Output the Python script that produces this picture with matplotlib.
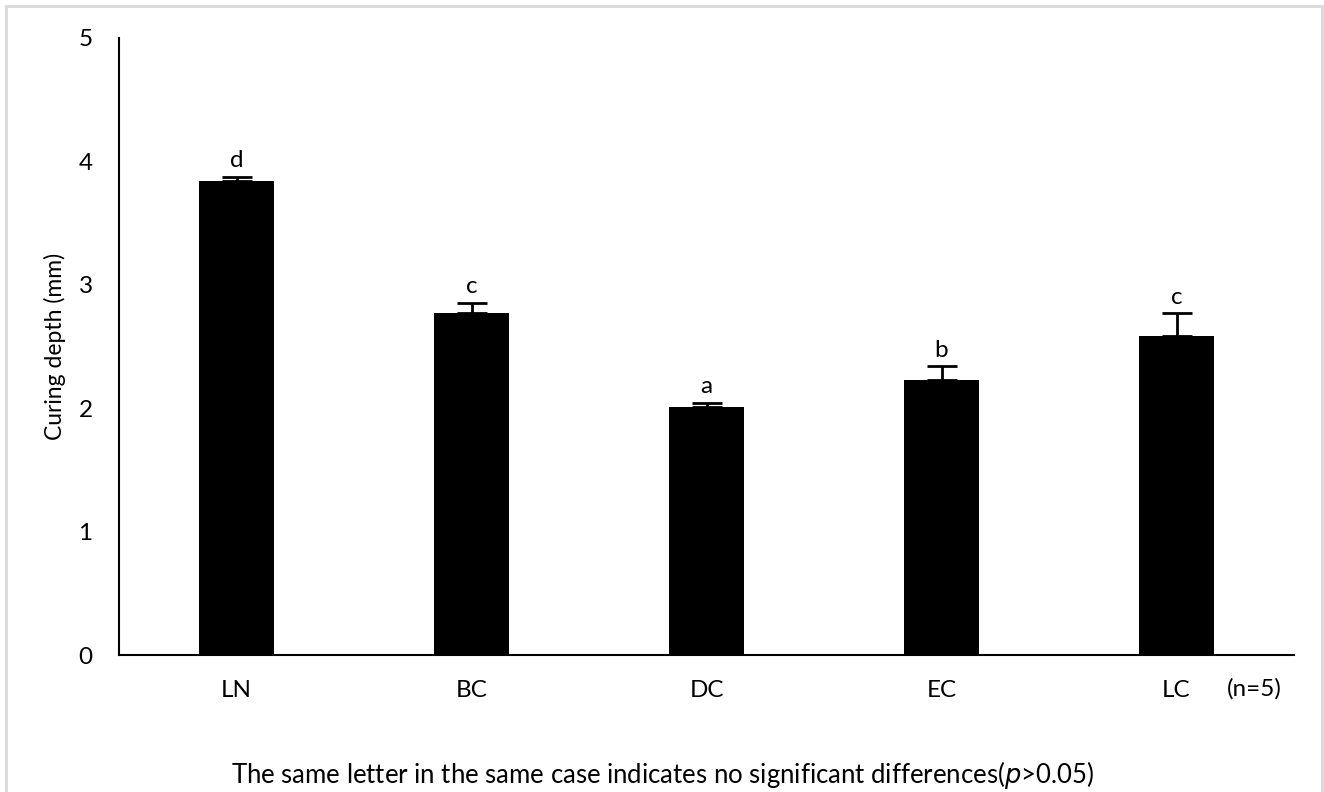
import matplotlib
matplotlib.use("Agg")
import matplotlib.pyplot as plt
from matplotlib.patches import Rectangle

plt.rcParams['font.family'] = ['Lato', 'DejaVu Sans']

groups = ["LN", "BC", "DC", "EC", "LC"]
depth = [3.84, 2.77, 2.01, 2.23, 2.585]
sd = [0.035, 0.085, 0.035, 0.11, 0.185]
letters = ["d", "c", "a", "b", "c"]

fig = plt.figure(figsize=(13.24, 7.92), dpi=100)
ax = fig.add_axes([119 / 1324, 137 / 792, 1175 / 1324, 617 / 792])

x = list(range(len(groups)))
ax.bar(x, depth, width=0.32, color="black")
ax.errorbar(x, depth, yerr=[[0] * len(sd), sd], fmt="none", ecolor="black",
            elinewidth=2, capsize=11, capthick=2)

for i in range(len(groups)):
    ax.annotate(letters[i], (x[i], depth[i] + sd[i]), xytext=(0, 4),
                textcoords="offset points", ha="center", va="bottom", fontsize=17.5)

ax.set_xlim(-0.5, 4.5)
ax.set_ylim(0, 5)
ax.set_yticks([0, 1, 2, 3, 4, 5])
ax.set_xticks(x)
ax.set_xticklabels(groups)
ax.tick_params(axis="both", length=0, labelsize=17.5)
ax.tick_params(axis="x", pad=18)
ax.tick_params(axis="y", pad=19)
ax.spines["top"].set_visible(False)
ax.spines["right"].set_visible(False)
ax.spines["left"].set_linewidth(1.5)
ax.spines["bottom"].set_linewidth(1.5)
ax.set_ylabel("Curing depth (mm)", fontsize=16.5, labelpad=9)

fig.text(1254 / 1324, 1 - 689 / 792, "(n=5)", ha="center", va="center", fontsize=17.5)
fig.text(662 / 1324, 1 - 775 / 792,
         "The same letter in the same case indicates no significant differences($\\it{p}$>0.05)",
         ha="center", va="center", fontsize=18.5)

fig.patches.append(Rectangle((6 / 1324, -0.01), 1316 / 1324, 1 - 6 / 792 + 0.01,
                             transform=fig.transFigure, fill=False,
                             edgecolor="#d9d9d9", linewidth=2))

fig.savefig("out.png", dpi=100)
